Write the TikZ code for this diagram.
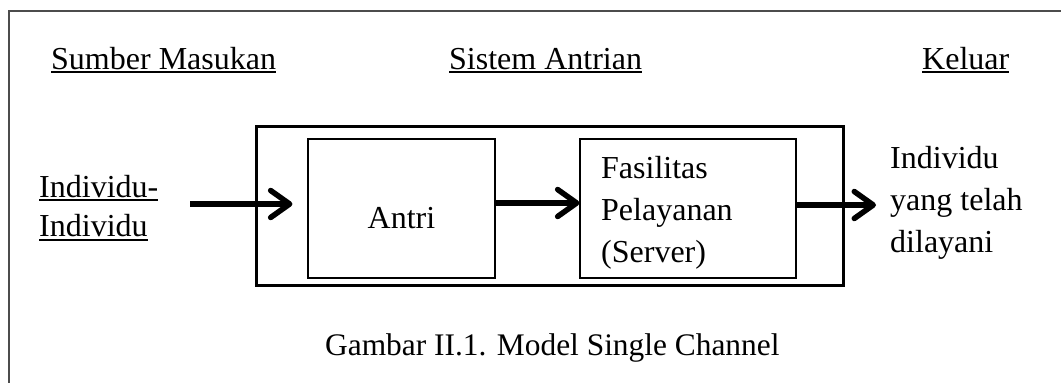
\documentclass[tikz,border=0pt]{standalone}
\usepackage{fontspec}
\setmainfont{Liberation Serif}
\usetikzlibrary{arrows.meta}
\begin{document}
\begin{tikzpicture}[x=1pt,y=-1pt,
  txt/.style={inner sep=0pt,anchor=base west,font=\fontsize{32}{38}\selectfont},
  ctxt/.style={inner sep=0pt,anchor=base,font=\fontsize{32}{38}\selectfont},
  uline/.style={line width=2pt},
  thinbox/.style={draw,line width=1.2pt,inner sep=0pt},
  bigbox/.style={draw,line width=3pt,inner sep=0pt},
  arr/.style={line width=5.5pt,-{Straight Barb[length=19pt,width=27pt,round]}},
  frame/.style={line width=1.6pt,draw=black!70}]
\useasboundingbox (0,0) rectangle (1061,383);
\draw[frame] (9,383) -- (9,11) -- (1061,11);
% headings
\node[txt] (sm) at (51,69) {Sumber Masukan};
\node[txt] (sa) at (449,69) {Sistem Antrian};
\node[txt] (kl) at (922,69) {Keluar};
\foreach \n in {sm,sa,kl}
  \draw[uline] ([yshift=-3pt]\n.base west) -- ([yshift=-3pt]\n.base east);
% input text
\node[txt] (in1) at (39,197) {Individu-};
\node[txt] (in2) at (39,236) {Individu};
\draw[uline] ([yshift=-2.5pt]in1.base west) -- ([yshift=-2.5pt]in1.base east);
\draw[uline] ([yshift=-3.5pt]in2.base west) -- ([yshift=-3.5pt]in2.base east);
% boxes
\node[bigbox,minimum width=587pt,minimum height=159pt] (sys) at (549.5,205.5) {};
\node[thinbox,minimum width=187pt,minimum height=139pt] (antri) at (401.5,208.5) {};
\node[ctxt] (antrit) at (401.5,228) {Antri};
\node[thinbox,minimum width=216pt,minimum height=139pt] (fas) at (688,208.5) {};
\node[txt] (f1) at (601,178) {Fasilitas};
\node[txt] (f2) at (601,220) {Pelayanan};
\node[txt] (f3) at (601,262) {(Server)};
% output text
\node[txt] (o1) at (890,168) {Individu};
\node[txt] (o2) at (890,210) {yang telah};
\node[txt] (o3) at (890,252) {dilayani};
% caption
\node[txt,font=\fontsize{31.4}{38}\selectfont] (cap) at (325,355) {Gambar II.1. Model Single Channel};
% arrows
\coordinate (src) at (190,204);
\coordinate (dst) at (876,205);
\draw[arr,shorten >=15pt] (src) -- ([yshift=4.5pt]antri.west);
\draw[arr] ([yshift=5.5pt]antri.east) -- ([yshift=5.5pt]fas.west);
\draw[arr] ([yshift=3.5pt]fas.east) -- (dst);
\end{tikzpicture}
\end{document}
